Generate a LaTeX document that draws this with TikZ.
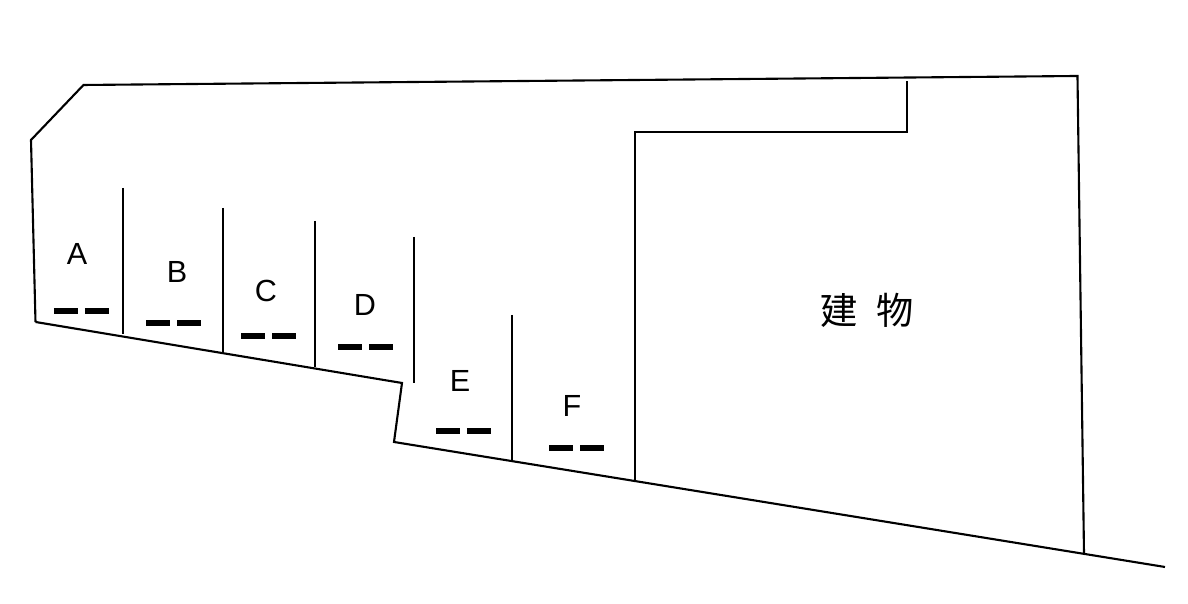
\documentclass[tikz,border=0pt]{standalone}
\usepackage{fontspec}
\setmainfont{Liberation Sans}
\newfontfamily\cjk{Noto Sans CJK JP}
\tikzset{
    wall/.style={line width=.6pt},
    mark line/.style={line width=1.7pt},
    stall label/.style={font=\fontsize{8.7}{10}\selectfont},
}
\begin{document}
\begin{tikzpicture}
    \useasboundingbox (0,0) rectangle (11.88,6.04);
    \draw[wall] (.355,2.82) -- (.31,4.64) -- (.835,5.19) -- (10.775,5.28) -- (10.84,.51);
    \draw[wall] (.355,2.82) -- (4.02,2.21) -- (3.94,1.62) -- (11.65,.37);
    \draw[wall] (1.23,4.16) -- (1.23,2.7);
    \draw[wall] (2.23,3.96) -- (2.23,2.51);
    \draw[wall] (3.15,3.83) -- (3.15,2.37);
    \draw[wall] (4.14,3.67) -- (4.14,2.21);
    \draw[wall] (5.12,2.89) -- (5.12,1.42);
    \draw[wall] (6.35,1.22) -- (6.35,4.72) -- (9.07,4.72) -- (9.07,5.23);
    % wheel stops
    \foreach \x/\y in {.54/2.925,1.46/2.805,2.41/2.68,3.38/2.57,4.36/1.73,5.49/1.56}{
        \draw[mark line] (\x,\y) -- ++(.24,0);
        \draw[mark line] (\x+.31,\y) -- ++(.24,0);
    }
    \node[stall label] (a) at (.77,3.5) {A};
    \node[stall label] (b) at (1.77,3.32) {B};
    \node[stall label] (c) at (2.66,3.135) {C};
    \node[stall label] (d) at (3.65,2.99) {D};
    \node[stall label] (e) at (4.6,2.235) {E};
    \node[stall label] (f) at (5.72,1.985) {F};
    \node[font=\cjk\fontsize{10.6}{12}\selectfont] (building) at (8.67,2.94) {建\hspace{.5em}物};
\end{tikzpicture}
\end{document}
